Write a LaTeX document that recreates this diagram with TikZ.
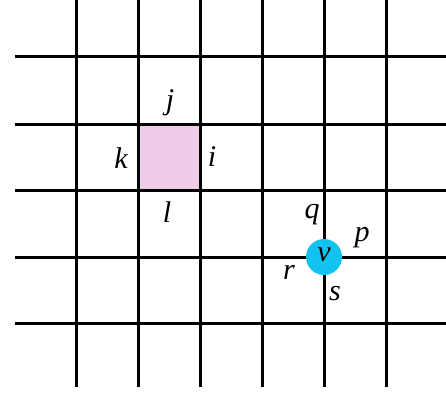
\documentclass[tikz,border=0pt]{standalone}
\usepackage{fontspec}
\setmainfont{Liberation Serif}
\definecolor{cellpink}{HTML}{EFCDE8}
\definecolor{vcyan}{HTML}{12C3F0}
\begin{document}
\begin{tikzpicture}[x=1pt,y=-1pt,
  gridline/.style={line width=3pt,black},
  lab/.style={font=\fontsize{30}{30}\selectfont\itshape,inner sep=0pt}]
\useasboundingbox (0,0) rectangle (446,394);
\fill[cellpink] (138,124) rectangle (200,190);
\foreach \y in {56,124,190,257,323}
  \draw[gridline] (15,\y) -- (446,\y);
\foreach \x in {76,138,200,262,324,386}
  \draw[gridline] (\x,0) -- (\x,387);
\node[circle,fill=vcyan,minimum size=36pt,inner sep=0pt] (v) at (324,257) {};
\node[lab] (vl) at (324,255) {v};
\node[lab] (j) at (170,103) {j};
\node[lab] (k) at (121,158) {k};
\node[lab] (i) at (212,157) {i};
\node[lab] (l) at (167,212) {l};
\node[lab] (q) at (312,215) {q};
\node[lab] (p) at (362,238) {p};
\node[lab] (r) at (289,272) {r};
\node[lab] (s) at (335,294) {s};
\end{tikzpicture}
\end{document}
